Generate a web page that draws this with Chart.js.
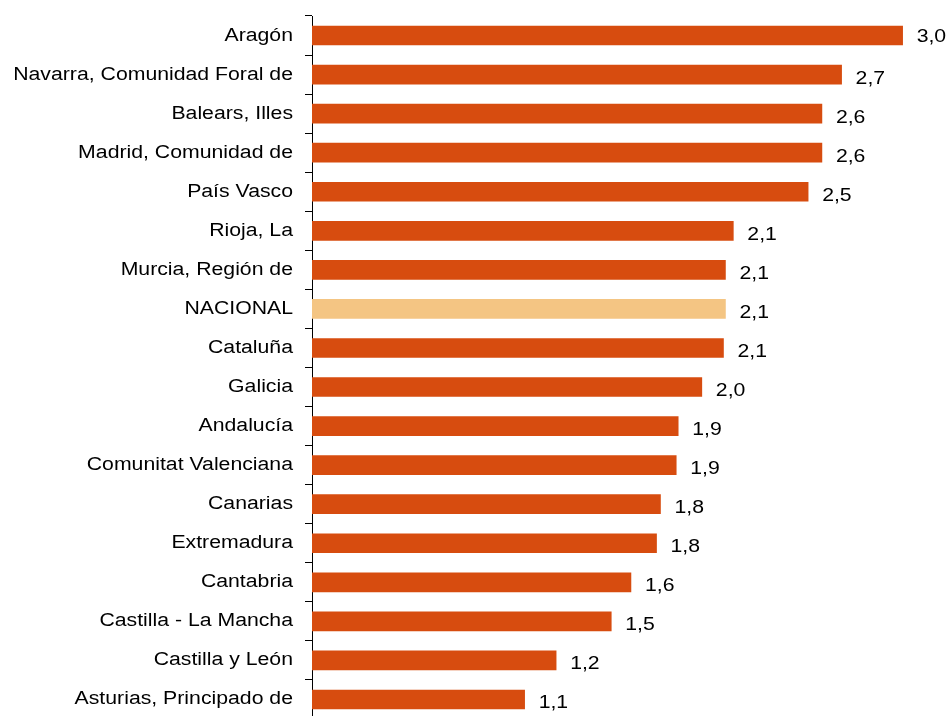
<!DOCTYPE html>
<html>
<head>
<meta charset="utf-8">
<script src="https://cdn.jsdelivr.net/npm/chart.js@4/dist/chart.umd.min.js"></script>
<style>
  html, body { margin: 0; padding: 0; background: #fff; overflow: hidden; }
  #wrap { width: 952px; height: 720px; }
</style>
</head>
<body>
<div id="wrap"><canvas id="chart" width="952" height="720"></canvas></div>
<script>
// Comunidades, de mayor a menor
const regions = [
  'Aragón', 'Navarra, Comunidad Foral de', 'Balears, Illes', 'Madrid, Comunidad de',
  'País Vasco', 'Rioja, La', 'Murcia, Región de', 'NACIONAL', 'Cataluña', 'Galicia',
  'Andalucía', 'Comunitat Valenciana', 'Canarias', 'Extremadura', 'Cantabria',
  'Castilla - La Mancha', 'Castilla y León', 'Asturias, Principado de'
];
const values = [3.0, 2.69, 2.59, 2.59, 2.52, 2.14, 2.10, 2.10, 2.09, 1.98, 1.86, 1.85, 1.77, 1.75, 1.62, 1.52, 1.24, 1.08];
const valueLabels = ['3,0', '2,7', '2,6', '2,6', '2,5', '2,1', '2,1', '2,1', '2,1', '2,0', '1,9', '1,9', '1,8', '1,8', '1,6', '1,5', '1,2', '1,1'];

const ORANGE = '#D74C0F';
const NACIONAL = '#F4C583';
const FONT = '18px "Liberation Sans", Arial, sans-serif';
const STRETCH = 1.18; // el texto del original está ensanchado

const textPlugin = {
  id: 'textos',
  afterDatasetsDraw(chart) {
    const ctx = chart.ctx;
    const yScale = chart.scales.y;
    const meta = chart.getDatasetMeta(0);
    ctx.save();
    ctx.font = FONT;
    ctx.fillStyle = '#000';
    ctx.textBaseline = 'alphabetic';
    regions.forEach((name, i) => {
      const y = yScale.getPixelForValue(i);
      // etiqueta de categoría
      ctx.save();
      ctx.translate(yScale.right - 19, y + 5);
      ctx.scale(STRETCH, 1);
      ctx.textAlign = 'right';
      ctx.fillText(name, 0, 0);
      ctx.restore();
      // valor
      const bar = meta.data[i];
      ctx.save();
      ctx.translate(bar.x + 14, y + (i === 0 ? 6 : 9));
      ctx.scale(STRETCH, 1);
      ctx.textAlign = 'left';
      ctx.fillText(valueLabels[i], 0, 0);
      ctx.restore();
    });
    ctx.restore();
  }
};

new Chart(document.getElementById('chart').getContext('2d'), {
  type: 'bar',
  data: {
    labels: regions,
    datasets: [{
      data: values,
      backgroundColor: regions.map(r => r === 'NACIONAL' ? NACIONAL : ORANGE),
      borderWidth: 0,
      barThickness: 19
    }]
  },
  options: {
    indexAxis: 'y',
    responsive: false,
    devicePixelRatio: 1,
    animation: false,
    layout: { padding: { top: 16, bottom: 1, left: 0, right: 10 } },
    plugins: { legend: { display: false }, tooltip: { enabled: false }, title: { display: false } },
    scales: {
      x: { display: false, min: 0, max: 3.2 },
      y: {
        ticks: { display: false },
        grid: { drawOnChartArea: false, drawTicks: true, tickLength: 7, color: '#000', offset: true },
        border: { display: true, color: '#000', width: 1 },
        afterFit: (scale) => { scale.width = 312; }
      }
    }
  },
  plugins: [textPlugin]
});
</script>
</body>
</html>
